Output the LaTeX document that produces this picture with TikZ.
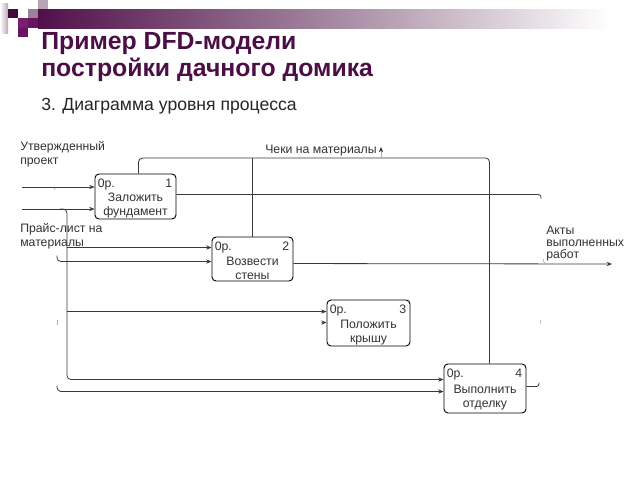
\documentclass[tikz,border=0pt]{standalone}
\usepackage{fontspec}
\setmainfont{Liberation Sans}
\usetikzlibrary{arrows.meta,calc}
\definecolor{ttl}{HTML}{4B0F45}
\definecolor{subc}{HTML}{262626}
\definecolor{txt}{HTML}{333333}
\definecolor{lineg}{HTML}{3A3A3A}
\definecolor{faint}{HTML}{B0B0B0}
\definecolor{sqA}{HTML}{B7A4B4}
\definecolor{sqB}{HTML}{3F0B38}
\definecolor{sqC}{HTML}{9C7F98}
\definecolor{sqD}{HTML}{7B1C70}
\definecolor{sqE}{HTML}{6A1461}
\definecolor{barL}{HTML}{50104A}
\definecolor{barM}{HTML}{A2859E}
\definecolor{stripR}{HTML}{B9A5B6}
\tikzset{
  box/.style={draw=black, line width=0.7pt, rounded corners=3pt, inner sep=0pt},
  lbl/.style={font=\fontsize{9.2}{10.5}\selectfont, text=txt, inner sep=0pt},
  conn/.style={draw=lineg, line width=0.6pt},
  arr/.style={conn, -{Stealth[length=4pt,width=3.2pt]}},
  tick/.style={draw=faint, line width=0.5pt},
  ttlfont/.style={font=\fontsize{18.6}{20}\selectfont\bfseries, text=ttl, inner sep=0pt},
  subfont/.style={font=\fontsize{13.2}{16}\selectfont, text=subc, inner sep=0pt}
}
\begin{document}
\begin{tikzpicture}[x=0.75pt,y=-0.75pt]
\useasboundingbox (0,0) rectangle (640,480);
\fill[white] (0,0) rectangle (640,480);
% header decoration
\shade[left color=white, right color=stripR] (0,3) rectangle (8,33);
\shade[left color=barL, right color=white, middle color=barM] (38,9) rectangle (610,28);
\fill[sqA] (38,0) rectangle (48,9);
\fill[sqB] (8,9) rectangle (18,18);
\fill[sqC] (28,9) rectangle (38,18);
\fill[sqD] (18,18) rectangle (28,28);
\fill[sqE] (28,18) rectangle (38,28);
\fill[sqE] (18,28) rectangle (28,37);
% titles
\node[ttlfont, anchor=base west] (t1) at (41,49) {Пример DFD-модели};
\node[ttlfont, anchor=base west] (t2) at (41,76) {постройки дачного домика};
\node[subfont, anchor=base west] (t3) at (41,110) {3. Диаграмма уровня процесса};
% boxes
\node[box, minimum width=60.75pt, minimum height=33.75pt] (b1) at (135.5,196.5) {};
\node[box, minimum width=60.75pt, minimum height=33pt] (b2) at (252.5,259) {};
\node[box, minimum width=62.25pt, minimum height=34.5pt] (b3) at (368.5,323) {};
\node[box, minimum width=61.5pt, minimum height=36.75pt] (b4) at (485,388.5) {};
\foreach \b/\n in {b1/1,b2/2,b3/3,b4/4}{
  \node[lbl, anchor=base west] (\b c) at ($(\b.north west)+(3,14)$) {0р.};
  \node[lbl, anchor=base east] (\b n) at ($(\b.north east)+(-4,14)$) {\n};
}
\node[lbl, align=center] (b1t) at ($(b1.center)+(0,9)$) {Заложить\\фундамент};
\node[lbl, align=center] (b2t) at ($(b2.center)+(0,9)$) {Возвести\\стены};
\node[lbl, align=center] (b3t) at ($(b3.center)+(0,9.5)$) {Положить\\крышу};
\node[lbl, align=center] (b4t) at ($(b4.center)+(0,9.5)$) {Выполнить\\отделку};
% outside labels
\node[lbl, anchor=base west] (la1) at (20,150) {Утвержденный};
\node[lbl, anchor=base west] (la2) at (20,164) {проект};
\node[lbl, anchor=base west] (lc) at (265,153) {Чеки на материалы};
\node[lbl, anchor=base west] (lb1) at (20,232) {Прайс-лист на};
\node[lbl, anchor=base west] (lb2) at (20,246) {материалы};
\node[lbl, anchor=base west] (ld1) at (546,234) {Акты};
\node[lbl, anchor=base west] (ld2) at (546,246) {выполненных};
\node[lbl, anchor=base west] (ld3) at (546,258) {работ};
% port coordinates
\coordinate (v1) at (67,0);
\coordinate (v2) at (57,0);
\coordinate (vr) at (541,0);
\coordinate (ctop) at (0,158);
\coordinate (i1) at (22,187);
\coordinate (i2) at (22,209);
\coordinate (j2) at (60,209);
\coordinate (b2in1) at ($(b2.north west)+(0,11)$);
\coordinate (b2in2) at ($(b2.north west)+(0,25)$);
\coordinate (b3in1) at ($(b3.north west)+(0,12)$);
\coordinate (b3in2) at ($(b3.north west)+(0,23)$);
\coordinate (b4in1) at ($(b4.north west)+(0,16)$);
\coordinate (b4in2) at ($(b4.north west)+(0,28)$);
\coordinate (c1) at ($(b1.north west)+(44,0)$);
\coordinate (c2) at ($(b2.north west)+(41,0)$);
\coordinate (c4) at ($(b4.north west)+(46,0)$);
\coordinate (chk) at (381,147);
\coordinate (o1) at ($(b1.north east)+(0,21)$);
\coordinate (o2) at ($(b2.north east)+(0,27)$);
\coordinate (o4) at ($(b4.north east)+(0,23)$);
\coordinate (out) at (612,264);
% control / output "Чеки на материалы"
\draw[conn, rounded corners=3pt] (c1) -- (c1 |- ctop) -- (c4 |- ctop) -- (c4);
\draw[conn] (c2) -- (c2 |- ctop);
\draw[tick, -{Stealth[length=4pt,width=3.2pt,color=txt]}] (chk |- ctop) -- (chk);
% inputs to box 1
\draw[arr] (i1) -- (i1 -| b1.west);
\draw[arr] (i2) -- (i2 -| b1.west);
% branch along x=67
\draw[arr, rounded corners=3pt] (j2) -- (j2 -| v1) -- (b4in1 -| v1) -- (b4in1);
\draw[arr] (b2in1 -| v1) -- (b2in1);
\draw[arr] (b3in1 -| v1) -- (b3in1);
% branch along x=57 (mostly hidden)
\draw[arr, rounded corners=3pt] ($(b2in2 -| v2)+(0,-6)$) -- (b2in2 -| v2) -- (b2in2);
\draw[arr, rounded corners=3pt] ($(b4in2 -| v2)+(0,-6)$) -- (b4in2 -| v2) -- (b4in2);
\draw[tick, -{Stealth[length=4pt,width=3.2pt,color=lineg]}] ($(b3in2)+(-6,0)$) -- (b3in2);
% outputs
\draw[conn, rounded corners=2pt] (o1) -- (o1 -| vr) -- ($(o1 -| vr)+(0,4)$);
\draw[arr] (o2) -- (out);
\draw[conn, rounded corners=2pt] (o4) -- ($(o4 -| vr)+(-2,0)$) -- ($(o4 -| vr)+(-2,-4)$);
% small remnants of hidden lines
\draw[tick] (54,188) -- (55,190);
\draw[tick] (57,320) -- (57,325);
\draw[tick] (541,320) -- (540,324);
\draw[tick] (543,259) to[out=-90,in=180] (547,264);
\end{tikzpicture}
\end{document}
